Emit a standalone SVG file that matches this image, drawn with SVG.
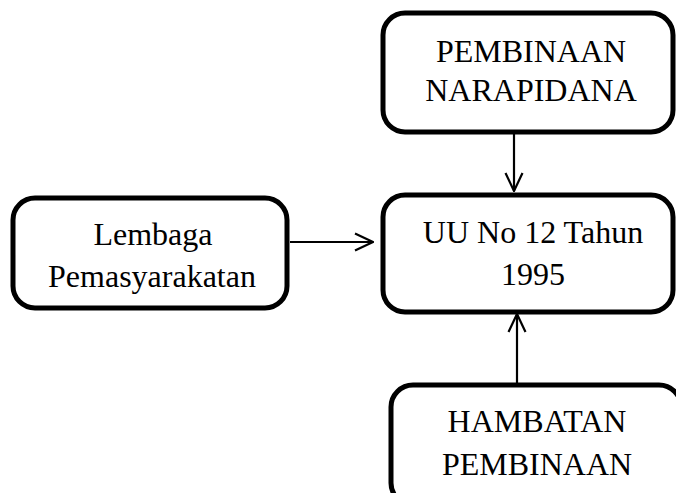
<svg xmlns="http://www.w3.org/2000/svg" width="676" height="493" viewBox="0 0 676 493">
<defs>
<style>
.box{fill:#fff;stroke:#000;stroke-width:5}
.t{font-family:"Liberation Serif","Times New Roman",serif;font-size:32px;fill:#000;text-anchor:middle}
.c{stroke:#000;stroke-width:2.2;fill:none}
</style>
<marker id="ah" viewBox="0 0 20 20" refX="19" refY="10" markerWidth="20" markerHeight="20" markerUnits="userSpaceOnUse" orient="auto">
<path d="M1,1.5 L19,10 L1,18.5" fill="none" stroke="#000" stroke-width="2.2"/>
</marker>
</defs>
<rect width="676" height="493" fill="#fff"/>
<g id="pembinaan">
<rect class="box" x="383" y="13" width="290" height="119" rx="22"/>
<text class="t" x="531" y="62">PEMBINAAN</text>
<text class="t" x="531" y="101">NARAPIDANA</text>
</g>
<g id="lembaga">
<rect class="box" x="13" y="198" width="274" height="110" rx="22"/>
<text class="t" x="153" y="245">Lembaga</text>
<text class="t" x="152" y="287">Pemasyarakatan</text>
</g>
<g id="uu">
<rect class="box" x="383" y="195" width="290" height="117" rx="22"/>
<text class="t" x="533" y="243">UU No 12 Tahun</text>
<text class="t" x="533" y="285">1995</text>
</g>
<g id="hambatan">
<rect class="box" x="391" y="385" width="290" height="120" rx="22"/>
<text class="t" x="537" y="432">HAMBATAN</text>
<text class="t" x="537" y="475">PEMBINAAN</text>
</g>
<g id="connectors">
<line class="c" x1="514" y1="134" x2="514" y2="191" marker-end="url(#ah)"/>
<line class="c" x1="290" y1="242" x2="373" y2="242" marker-end="url(#ah)"/>
<line class="c" x1="517" y1="383" x2="517" y2="314" marker-end="url(#ah)"/>
</g>
</svg>
